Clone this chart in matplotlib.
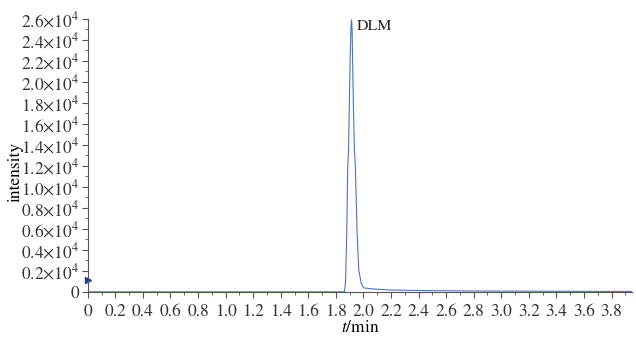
import numpy as np
import matplotlib.pyplot as plt
from matplotlib.ticker import MultipleLocator, FuncFormatter

plt.rcParams['font.family'] = ['STIXGeneral', 'DejaVu Serif']
plt.rcParams['mathtext.fontset'] = 'stix'

# chromatogram
t_min = [0.0, 0.5, 1.0, 1.5, 1.80, 1.862, 1.870, 1.879, 1.886, 1.892, 1.897, 1.904,
         1.910, 1.914, 1.918, 1.921, 1.928, 1.935, 1.942, 1.954, 1.966, 1.983,
         2.0, 2.05, 2.1, 2.15, 2.2, 2.4, 2.6, 2.8, 3.0, 3.3, 3.6, 3.95]
intensity = [0, 0, 0, 0, 0, 0, 860, 5600, 11800, 13500, 17300, 22400,
             25300, 25900, 25000, 22400, 17300, 13500, 11800, 5600, 2100, 860,
             380, 300, 250, 210, 170, 130, 100, 80, 70, 55, 45, 35]

marker_t = [0.0]
marker_i = [1100]

peak_name = "DLM"
peak_pos = (1.955, 25300)

fig = plt.figure(figsize=(6.36, 3.37), dpi=100)
ax = fig.add_axes([0.138, 0.134, 0.856, 0.81])

ax.plot(t_min, intensity, color="#4a74c9", lw=0.8)
ax.plot(marker_t, marker_i, marker=">", color="#1f3f8f", ms=4, ls="none", clip_on=False)
ax.text(peak_pos[0], peak_pos[1], peak_name, fontsize=11.5, va="center", ha="left",
        color="#222222")

ax.set_xlim(0, 3.95)
ax.set_ylim(0, 26000)
ax.xaxis.set_major_locator(MultipleLocator(0.2))
ax.xaxis.set_minor_locator(MultipleLocator(0.1))
ax.yaxis.set_major_locator(MultipleLocator(2000))
ax.yaxis.set_minor_locator(MultipleLocator(1000))


def yfmt(v, pos):
    if abs(v) < 1:
        return "0"
    return r"$%.1f{\times}10^{4}$" % (v / 1e4)


def xfmt(v, pos):
    if abs(v) < 1e-9:
        return "0"
    return "%.1f" % v


ax.yaxis.set_major_formatter(FuncFormatter(yfmt))
ax.xaxis.set_major_formatter(FuncFormatter(xfmt))

for s in ["top", "right"]:
    ax.spines[s].set_visible(False)
for s in ["left", "bottom"]:
    ax.spines[s].set_color("#555555")
    ax.spines[s].set_linewidth(0.8)

ax.tick_params(which="major", length=4, width=0.8, color="#555555", labelsize=12.5,
               labelcolor="#333333")
ax.tick_params(axis="x", which="major", pad=5)
ax.tick_params(axis="y", which="major", pad=2)
ax.tick_params(which="minor", length=2.5, width=0.6, color="#555555")

ax.set_xlabel(r"$\mathit{t}$/min", fontsize=12.5, labelpad=0)
ax.set_ylabel("intensity", fontsize=12.5)
ax.yaxis.set_label_coords(-0.118, 0.44)

fig.savefig("out.png", dpi=100)
